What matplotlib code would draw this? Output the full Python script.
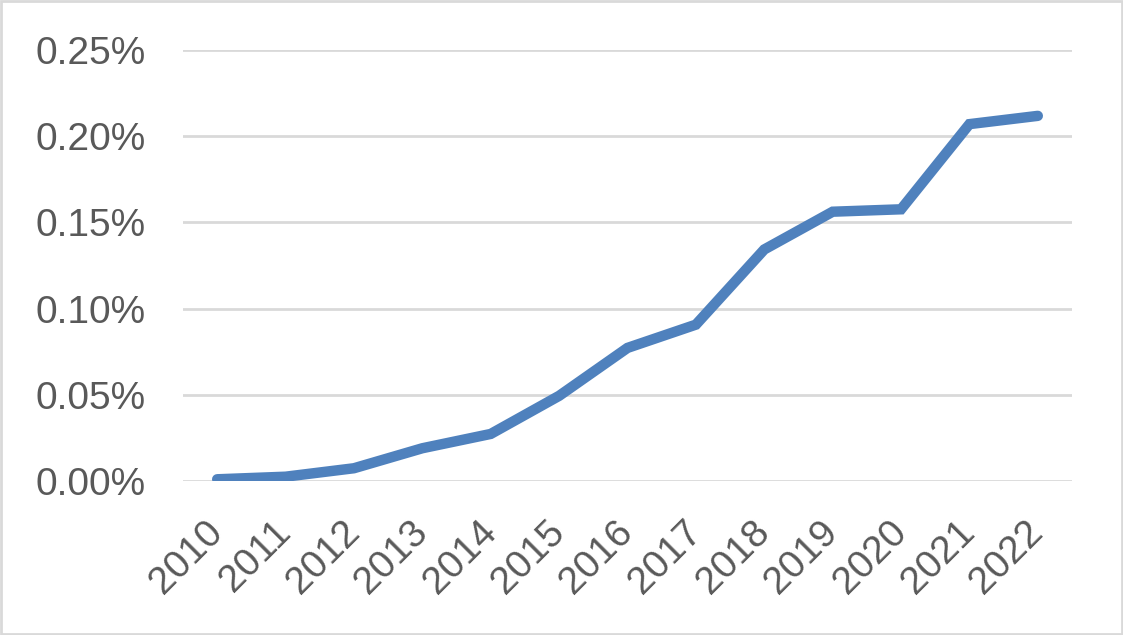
import matplotlib

matplotlib.use("agg")
import matplotlib.pyplot as plt
from matplotlib.patches import Rectangle
from matplotlib.ticker import FuncFormatter

# values (percent)
years = ["2010", "2011", "2012", "2013", "2014", "2015", "2016",
         "2017", "2018", "2019", "2020", "2021", "2022"]
share = [0.0010, 0.0025, 0.0074, 0.0190, 0.0273, 0.0494, 0.0772,
         0.0907, 0.1343, 0.1562, 0.1576, 0.2070, 0.2118]
yticks = [0.00, 0.05, 0.10, 0.15, 0.20, 0.25]

plt.rcParams["font.family"] = ["Liberation Sans", "DejaVu Sans"]
text_color = "#595959"

fig = plt.figure(figsize=(11.23, 6.35), dpi=100)
ax = fig.add_axes([183 / 1123, (635 - 481) / 635, (1072 - 183) / 1123, (481 - 50) / 635])

x = list(range(len(years)))
ax.plot(x, share, color="#4F81BD", linewidth=7.5, solid_capstyle="round",
        solid_joinstyle="miter", zorder=3)

ax.set_xlim(-0.5, len(years) - 0.5)
ax.set_ylim(0, 0.25)
ax.set_yticks(yticks)
ax.yaxis.set_major_formatter(FuncFormatter(lambda v, p: "{:.2f}%".format(v)))
ax.set_xticks(x)
ax.set_xticklabels(years, rotation=45, ha="right", va="center", rotation_mode="anchor")

ax.grid(axis="y", color="#D9D9D9", linewidth=2)
ax.set_axisbelow(True)
for s in ax.spines.values():
    s.set_visible(False)
ax.tick_params(axis="both", length=0, labelsize=28, colors=text_color)
ax.tick_params(axis="y", pad=27)
ax.tick_params(axis="x", pad=33)

# light grey frame around the whole chart
fig.patches.append(Rectangle((0.001, 0.002), 0.998, 0.996, transform=fig.transFigure,
                             fill=False, edgecolor="#D9D9D9", linewidth=2))

fig.savefig("out.png", dpi=100)
plt.close()
